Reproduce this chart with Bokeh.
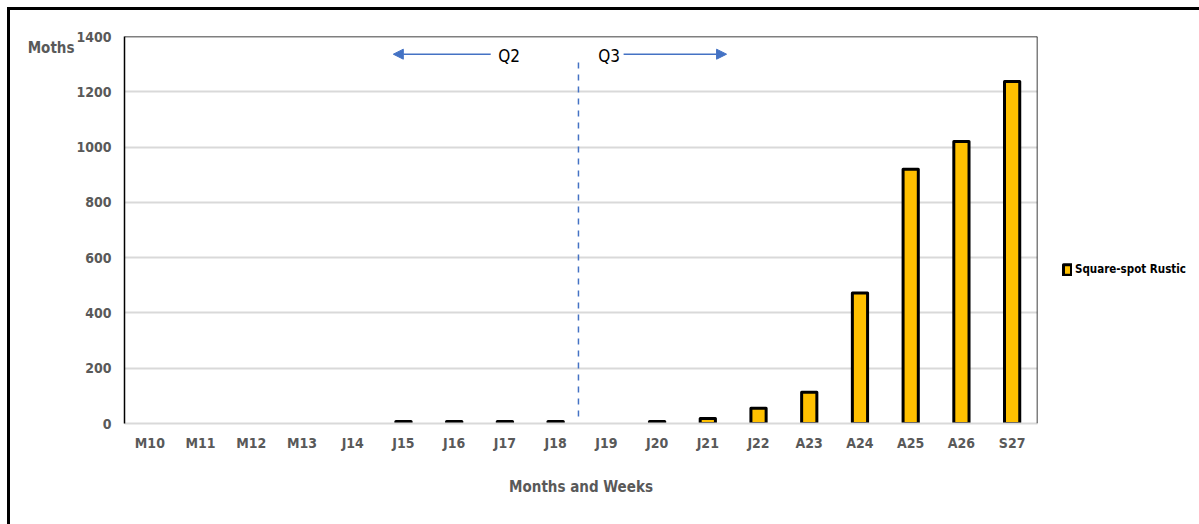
from bokeh.plotting import figure
from bokeh.models import (Range1d, FactorRange, FixedTicker, Span, Arrow, NormalHead,
                          Label, Legend, LegendItem, LinearAxis)
from bokeh.embed import file_html
from bokeh.resources import INLINE

nan = float("nan")

# Weekly catch of Square-spot Rustic (nan = no catch recorded)
weeks = ["M10", "M11", "M12", "M13", "J14", "J15", "J16", "J17", "J18",
         "J19", "J20", "J21", "J22", "A23", "A24", "A25", "A26", "S27"]
moths = [nan, nan, nan, nan, nan, 7, 7, 7, 7, nan, 7, 18, 55, 113, 472, 920, 1020, 1237]
y_ticks = [0, 200, 400, 600, 800, 1000, 1200, 1400]
series_name = "Square-spot Rustic"
y_title = "Moths"
x_title = "Months and Weeks"

FONT = "DejaVu Sans Condensed"
GREY = "#595959"
BLUE = "#4472C4"

p = figure(frame_width=913, frame_height=387, x_range=FactorRange(*weeks, range_padding=0),
           y_range=Range1d(0, 1400), output_backend="svg", toolbar_location=None,
           min_border_left=114, min_border_top=26, min_border_right=162,
           min_border_bottom=101)
p.margin = (7, 0, 0, 7)
p.styles = {"border-left": "3px solid black", "border-top": "3px solid black"}
p.outline_line_color = None

r = p.vbar(x=weeks, top=moths, width=0.3, fill_color="#FFC000",
           line_color="black", line_width=3, line_join="round")

# axes
p.yaxis.ticker = FixedTicker(ticks=y_ticks)
p.yaxis.axis_line_color = "black"
p.yaxis.axis_line_width = 1.5
p.yaxis.major_tick_line_color = None
p.yaxis.minor_tick_line_color = None
p.yaxis.major_label_text_font = FONT
p.yaxis.major_label_text_font_size = "14px"
p.yaxis.major_label_text_font_style = "bold"
p.yaxis.major_label_text_color = GREY
p.yaxis.major_label_standoff = 7

# y title sits horizontally at the top-left, as a one-tick outer axis
title_axis = LinearAxis(ticker=FixedTicker(ticks=[1360]),
                        major_label_overrides={1360: y_title},
                        axis_line_color=None, major_tick_line_color=None,
                        minor_tick_line_color=None, major_label_standoff=-7,
                        major_label_text_font=FONT, major_label_text_font_size="15px",
                        major_label_text_font_style="bold", major_label_text_color=GREY)
p.add_layout(title_axis, "left")

p.xaxis.axis_line_color = "#d9d9d9"
p.xaxis.axis_line_width = 2
p.xaxis.major_tick_line_color = None
p.xaxis.minor_tick_line_color = None
p.xaxis.major_label_text_font = FONT
p.xaxis.major_label_text_font_size = "14px"
p.xaxis.major_label_text_font_style = "bold"
p.xaxis.major_label_text_color = GREY
p.xaxis.major_label_standoff = 5
p.xaxis.axis_label = x_title
p.xaxis.axis_label_text_font = FONT
p.xaxis.axis_label_text_font_size = "15px"
p.xaxis.axis_label_text_font_style = "bold"
p.xaxis.axis_label_text_color = GREY
p.xaxis.axis_label_standoff = 24

p.xgrid.grid_line_color = None
p.ygrid.ticker = FixedTicker(ticks=y_ticks[1:-1])
p.ygrid.grid_line_color = "#d9d9d9"
p.ygrid.grid_line_width = 2

# frame edges on top and right
p.add_layout(Span(location=1400, dimension="width", line_color="black", line_width=1.5))
p.add_layout(Span(location=len(weeks), dimension="height", line_color="black", line_width=1.5))

# quarter divider between Q2 and Q3
split = weeks.index("J19") - 0.05
p.segment(x0=[split], y0=[25], x1=[split], y1=[1316], line_color=BLUE,
          line_width=1.5, line_dash="6 6")

head = dict(size=10, fill_color=BLUE, line_color=BLUE)
arrow_y = 1336
p.add_layout(Arrow(end=NormalHead(**head), x_start=weeks.index("J17") + 0.22,
                   y_start=arrow_y, x_end=weeks.index("J15") + 0.3, y_end=arrow_y,
                   line_color=BLUE, line_width=1.5))
p.add_layout(Arrow(end=NormalHead(**head), x_start=weeks.index("J20") - 0.16,
                   y_start=arrow_y, x_end=weeks.index("J22") - 0.13, y_end=arrow_y,
                   line_color=BLUE, line_width=1.5))
for txt, xx in [("Q2", weeks.index("J17") + 0.37), ("Q3", weeks.index("J19") + 0.34)]:
    p.add_layout(Label(x=xx, y=arrow_y - 8, text=txt, text_font=FONT, text_font_size="17px",
                       text_color="black", text_baseline="middle", text_align="left"))

legend = Legend(items=[LegendItem(label=series_name, renderers=[r])],
                location=(25, 147), padding=0, margin=0, spacing=0,
                glyph_width=10, glyph_height=13, label_height=13,
                label_standoff=3, border_line_color=None, background_fill_alpha=0,
                label_text_font=FONT, label_text_font_size="11.5px",
                label_text_font_style="bold", label_text_color="black")
p.add_layout(legend, "right")

open("out.html", "w").write(file_html(p, INLINE))
